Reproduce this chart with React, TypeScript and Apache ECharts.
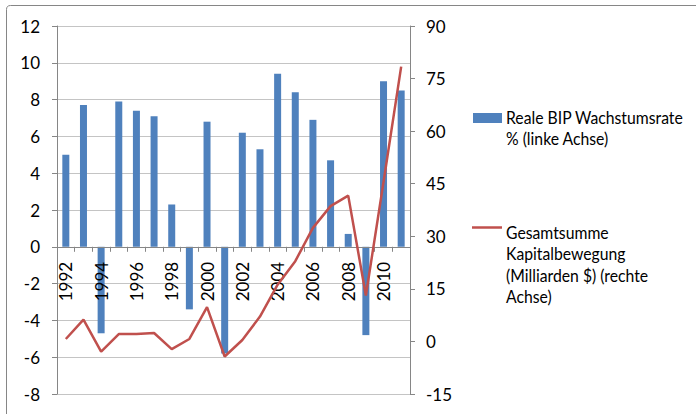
import React, { useEffect, useRef } from "react";
import * as echarts from "echarts";

const years = [
  "1992", "1993", "1994", "1995", "1996", "1997", "1998", "1999", "2000", "2001",
  "2002", "2003", "2004", "2005", "2006", "2007", "2008", "2009", "2010", "2011",
];
const gdpGrowth = [5.0, 7.7, -4.7, 7.9, 7.4, 7.1, 2.3, -3.4, 6.8, -5.8, 6.2, 5.3, 9.4, 8.4, 6.9, 4.7, 0.7, -4.8, 9.0, 8.5];
const capitalFlows = [0.7, 6.2, -2.9, 2.1, 2.1, 2.4, -2.2, 0.7, 9.8, -4.3, 0.4, 7.1, 16.2, 22.9, 32.4, 38.6, 41.6, 13.1, 45.5, 78.4];
const barName = "Reale BIP Wachstumsrate\n% (linke Achse)";
const lineName = "Gesamtsumme\nKapitalbewegung\n(Milliarden $) (rechte\nAchse)";
const leftAxis = { min: -8, max: 12, interval: 2 };
const rightAxis = { min: -15, max: 90, interval: 15 };

const FONT = "Lato";
const BLUE = "#4f81bd";
const RED = "#c0504d";
const AXIS = "#868686";
const GRID = "#c4c4c4";

const GRID_TOP = 26;
const GRID_BOTTOM = 20;
const PLOT_H = 414 - GRID_TOP - GRID_BOTTOM;
// distance from the plot's bottom edge up to the zero line of the left axis
const zeroOffset = -(PLOT_H * (0 - leftAxis.min)) / (leftAxis.max - leftAxis.min);

const LEG_FS = 18;
const LEG_SX = 0.875;
const LEG_LH = 21.5 / 1; // line height in px (no vertical scaling)

export default function App() {
  const ref = useRef<HTMLDivElement>(null);
  useEffect(() => {
    if (!ref.current) return;
    const chart = echarts.init(ref.current, null, { renderer: "svg" });
    chart.setOption({
      animation: false,
      textStyle: { fontFamily: FONT },
      grid: { left: 57, right: 286, top: GRID_TOP, bottom: GRID_BOTTOM, containLabel: false, outerBoundsMode: "none" },
      xAxis: {
        type: "category",
        data: years,
        z: 3,
        offset: zeroOffset,
        axisLine: { onZero: false, lineStyle: { color: AXIS, width: 1 } },
        axisTick: { show: true, length: 5, interval: 0, lineStyle: { color: AXIS } },
        axisLabel: { rotate: 90, interval: 1, margin: 15, fontSize: 17, color: "#000", fontFamily: FONT },
      },
      yAxis: [
        {
          type: "value",
          ...leftAxis,
          axisLine: { show: true, lineStyle: { color: AXIS } },
          axisTick: { show: true, length: 5, lineStyle: { color: AXIS } },
          axisLabel: { margin: 17, fontSize: 17, color: "#000", fontFamily: FONT },
          splitLine: { show: true, lineStyle: { color: GRID, width: 1 } },
        },
        {
          type: "value",
          ...rightAxis,
          position: "right",
          axisLine: { show: true, lineStyle: { color: AXIS } },
          axisTick: { show: true, length: 5, lineStyle: { color: AXIS } },
          axisLabel: { margin: 16, fontSize: 17, color: "#000", fontFamily: FONT },
          splitLine: { show: false },
        },
      ],
      series: [
        {
          name: barName,
          type: "bar",
          yAxisIndex: 0,
          data: gdpGrowth,
          barWidth: 7,
          itemStyle: { color: BLUE },
        },
        {
          name: lineName,
          type: "line",
          yAxisIndex: 1,
          data: capitalFlows,
          symbol: "none",
          z: 4,
          lineStyle: { color: RED, width: 2.5 },
        },
      ],
      graphic: [
        {
          type: "rect",
          shape: { x: 6.5, y: 5.5, width: 720, height: 440, r: 4 },
          style: { fill: "none", stroke: AXIS, lineWidth: 1 },
          silent: true,
        },
        {
          type: "rect",
          shape: { x: 473, y: 113, width: 29, height: 10 },
          style: { fill: BLUE },
        },
        {
          type: "text",
          x: 506,
          y: 106,
          scaleX: LEG_SX,
          style: {
            text: barName,
            fontFamily: FONT,
            fontSize: LEG_FS,
            lineHeight: LEG_LH,
            fill: "#000",
            verticalAlign: "top",
          },
        },
        {
          type: "line",
          shape: { x1: 472, y1: 227.5, x2: 502, y2: 227.5 },
          style: { stroke: RED, lineWidth: 2.5 },
        },
        {
          type: "text",
          x: 506,
          y: 221,
          scaleX: LEG_SX,
          style: {
            text: lineName,
            fontFamily: FONT,
            fontSize: LEG_FS,
            lineHeight: LEG_LH,
            fill: "#000",
            verticalAlign: "top",
          },
        },
      ],
    });
    return () => chart.dispose();
  }, []);
  return <div ref={ref} style={{ width: 696, height: 414, position: "absolute", left: 0, top: 0 }} />;
}
